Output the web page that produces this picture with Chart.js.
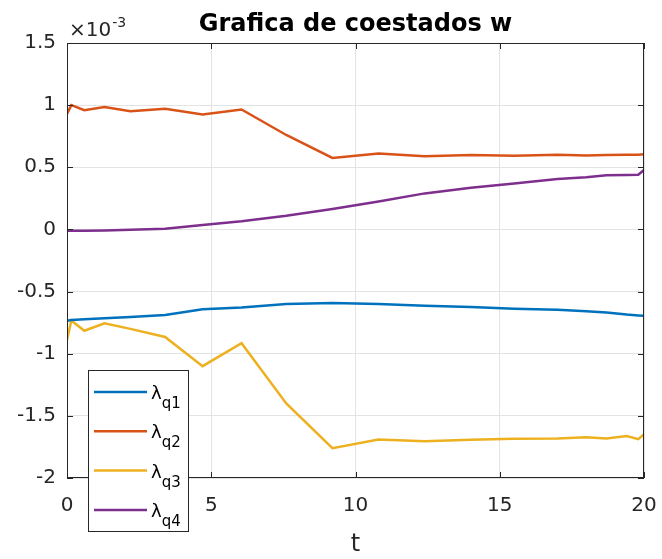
<!DOCTYPE html>
<html>
<head>
<meta charset="utf-8">
<script src="https://cdn.jsdelivr.net/npm/chart.js@4"></script>
<style>
  html, body { margin: 0; padding: 0; background: #fff; }
  #wrap { width: 662px; height: 559px; }
</style>
</head>
<body>
<div id="wrap"><canvas id="coestChart" width="662" height="559"></canvas></div>
<script>
// time samples (t) and costate values, in units of 1e-3
const tValues  = [0, 0.15, 0.6, 1.3, 2.2, 3.4, 4.7, 6.05, 7.6, 9.2, 10.8, 12.4, 14.0, 15.5, 17.0, 18.0, 18.7, 19.4, 19.8, 20];
const lambdaQ1 = [-0.735, -0.728, -0.722, -0.715, -0.705, -0.688, -0.643, -0.628, -0.600, -0.592, -0.600, -0.615, -0.625, -0.638, -0.647, -0.658, -0.668, -0.685, -0.692, -0.695];
const lambdaQ2 = [0.93, 1.0, 0.96, 0.985, 0.95, 0.97, 0.925, 0.965, 0.76, 0.575, 0.61, 0.588, 0.598, 0.592, 0.6, 0.595, 0.598, 0.6, 0.6, 0.605];
const lambdaQ3 = [-0.89, -0.733, -0.815, -0.755, -0.80, -0.865, -1.1, -0.915, -1.4, -1.76, -1.69, -1.705, -1.692, -1.685, -1.682, -1.672, -1.683, -1.662, -1.688, -1.648];
const lambdaQ4 = [-0.01, -0.01, -0.01, -0.008, -0.003, 0.005, 0.035, 0.065, 0.11, 0.165, 0.225, 0.29, 0.335, 0.37, 0.405, 0.42, 0.435, 0.438, 0.44, 0.478];
const seriesSubs = ['q1', 'q2', 'q3', 'q4'];
const xTicks = [0, 5, 10, 15, 20];
const yTicks = [-2, -1.5, -1, -0.5, 0, 0.5, 1, 1.5];
const yTickLabels = ['-2', '-1.5', '-1', '-0.5', '0', '0.5', '1', '1.5'];
const titleText = 'Grafica de coestados w';

const colors = ['#0072BD', '#D95319', '#EDB120', '#7E2F8E'];
const axisColor = '#262626';
const FONT = '"DejaVu Sans", Verdana, sans-serif';

function toPoints(vals) {
    return tValues.map((t, i) => ({ x: t, y: vals[i] }));
}

const allSeries = [lambdaQ1, lambdaQ2, lambdaQ3, lambdaQ4];
const datasets = allSeries.map((vals, i) => ({
    label: 'λ' + seriesSubs[i],
    data: toPoints(vals),
    borderColor: colors[i],
    backgroundColor: colors[i],
    borderWidth: 2.5,
    pointRadius: 0,
    tension: 0,
    fill: false
}));

// draws the box, inward ticks, title, exponent and the legend (MATLAB look)
const matlabDecor = {
    id: 'matlabDecor',
    afterDraw(chart) {
        const ctx = chart.ctx;
        const a = chart.chartArea;
        const xs = chart.scales.x, ys = chart.scales.y;
        ctx.save();

        // box
        ctx.strokeStyle = axisColor;
        ctx.lineWidth = 1;
        ctx.strokeRect(a.left + 0.5, a.top + 0.5, a.right - a.left - 1, a.bottom - a.top - 1);

        // inward ticks
        const tl = 6;
        ctx.beginPath();
        xTicks.forEach(v => {
            const px = Math.round(xs.getPixelForValue(v)) + 0.5;
            ctx.moveTo(px, a.bottom); ctx.lineTo(px, a.bottom - tl);
            ctx.moveTo(px, a.top); ctx.lineTo(px, a.top + tl);
        });
        yTicks.forEach(v => {
            const py = Math.round(ys.getPixelForValue(v)) + 0.5;
            ctx.moveTo(a.left, py); ctx.lineTo(a.left + tl, py);
            ctx.moveTo(a.right, py); ctx.lineTo(a.right - tl, py);
        });
        ctx.stroke();

        // title
        ctx.fillStyle = '#000';
        ctx.font = 'bold 24px ' + FONT;
        ctx.textAlign = 'center';
        ctx.textBaseline = 'alphabetic';
        ctx.fillText(titleText, (a.left + a.right) / 2, 31);

        // exponent
        ctx.fillStyle = axisColor;
        ctx.textAlign = 'left';
        ctx.font = '20px ' + FONT;
        ctx.fillText('×10', 69, 36);
        const w = ctx.measureText('×10').width;
        ctx.font = '14px ' + FONT;
        ctx.fillText('-3', 69 + w + 1, 27);

        // legend
        const lx = 88, ly = 370, lw = 100, lh = 161;
        ctx.fillStyle = '#fff';
        ctx.fillRect(lx, ly, lw, lh);
        ctx.strokeStyle = axisColor;
        ctx.lineWidth = 1;
        ctx.strokeRect(lx + 0.5, ly + 0.5, lw, lh);
        chart.data.datasets.forEach((ds, i) => {
            const cy = 392 + i * 39.3;
            ctx.strokeStyle = ds.borderColor;
            ctx.lineWidth = 2.5;
            ctx.beginPath();
            ctx.moveTo(94, cy); ctx.lineTo(147, cy);
            ctx.stroke();
            ctx.fillStyle = '#000';
            ctx.font = '18px ' + FONT;
            ctx.fillText('λ', 151, cy + 7);
            const lw2 = ctx.measureText('λ').width;
            ctx.font = '15px ' + FONT;
            ctx.fillText(seriesSubs[i], 151 + lw2, cy + 16);
        });
        ctx.restore();
    }
};

const ctx = document.getElementById('coestChart').getContext('2d');
new Chart(ctx, {
    type: 'line',
    data: { datasets: datasets },
    options: {
        responsive: false,
        animation: false,
        layout: { autoPadding: false, padding: { left: 0, top: 43, right: 18, bottom: 0 } },
        plugins: {
            legend: { display: false },
            title: { display: false },
            tooltip: { enabled: false }
        },
        scales: {
            x: {
                type: 'linear',
                min: 0,
                max: 20,
                afterFit: s => { s.height = 81; s.paddingLeft = 0; s.paddingRight = 0; },
                afterBuildTicks: s => { s.ticks = xTicks.map(v => ({ value: v })); },
                grid: { color: '#e3e3e3', drawTicks: false },
                border: { display: false },
                ticks: {
                    color: axisColor,
                    font: { size: 20, family: FONT },
                    padding: 16,
                    maxRotation: 0
                },
                title: {
                    display: true,
                    text: 't',
                    color: axisColor,
                    font: { size: 24, family: FONT },
                    padding: { top: 0, bottom: 0 }
                }
            },
            y: {
                min: -2,
                max: 1.5,
                afterFit: s => { s.width = 67; s.paddingTop = 0; s.paddingBottom = 0; },
                afterBuildTicks: s => { s.ticks = yTicks.map(v => ({ value: v })); },
                grid: { color: '#e3e3e3', drawTicks: false },
                border: { display: false },
                ticks: {
                    color: axisColor,
                    font: { size: 20, family: FONT },
                    padding: 11,
                    callback: v => yTickLabels[yTicks.indexOf(v)]
                }
            }
        }
    },
    plugins: [matlabDecor]
});
</script>
</body>
</html>
